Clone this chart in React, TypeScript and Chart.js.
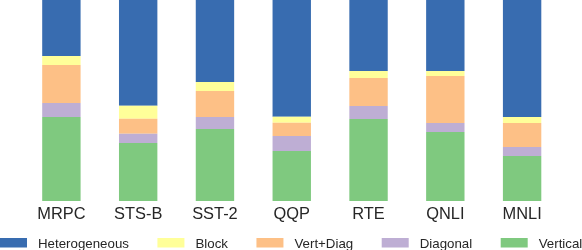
import { useEffect, useRef } from "react";
import { Chart, registerables } from "chart.js";

Chart.register(...registerables);

const categories = ["MRPC", "STS-B", "SST-2", "QQP", "RTE", "QNLI", "MNLI"];
const vertical = [41.8, 28.9, 35.8, 24.9, 40.8, 34.3, 22.4];
const diagonal = [7.0, 4.5, 6.0, 7.5, 6.5, 4.5, 4.5];
const vertDiag = [18.9, 7.5, 12.9, 6.5, 13.9, 23.4, 11.9];
const block = [4.5, 6.5, 4.5, 3.0, 3.5, 2.5, 3.0];
const heterogeneous = [27.8, 52.6, 40.8, 58.1, 35.3, 35.3, 58.2];
const seriesLabels = ["Vertical", "Diagonal", "Vert+Diag", "Block", "Heterogeneous"];
const seriesColors = ["#7fc97f", "#beaed4", "#fdc086", "#ffff99", "#386cb0"];

const FONT = "'Liberation Sans', Arial, sans-serif";

const bottomLegend = {
  id: "bottomLegend",
  afterDraw(chart: any) {
    const ctx = chart.ctx as CanvasRenderingContext2D;
    ctx.save();
    ctx.font = `13.3px ${FONT}`;
    ctx.textBaseline = "alphabetic";
    ctx.textAlign = "left";
    let x = 0;
    const ds = [...chart.data.datasets].reverse();
    for (const d of ds) {
      ctx.fillStyle = d.backgroundColor;
      ctx.fillRect(x, 238, 27, 9.5);
      ctx.fillStyle = "#262626";
      ctx.fillText(d.label, x + 38, 248);
      x += 38 + ctx.measureText(d.label).width + 28.5;
    }
    ctx.restore();
  },
};

export default function App() {
  const ref = useRef<HTMLCanvasElement | null>(null);
  useEffect(() => {
    if (!ref.current) return;
    const seriesData = [vertical, diagonal, vertDiag, block, heterogeneous];
    const chart = new Chart(ref.current, {
      type: "bar",
      data: {
        labels: categories,
        datasets: seriesData.map((d, i) => ({
          label: seriesLabels[i],
          data: d,
          backgroundColor: seriesColors[i],
          borderWidth: 0,
          barPercentage: 0.5,
          categoryPercentage: 1,
        })),
      },
      options: {
        responsive: false,
        animation: false,
        devicePixelRatio: 1,
        layout: { padding: { left: 23, right: 21.5, top: 0, bottom: 0 } },
        plugins: {
          legend: { display: false },
          tooltip: { enabled: false },
        },
        scales: {
          x: {
            stacked: true,
            grid: { display: false, drawTicks: false },
            border: { display: false },
            ticks: {
              padding: 4,
              color: "#262626",
              font: { size: 16.4, family: FONT },
              maxRotation: 0,
            },
            afterFit(scale: any) {
              scale.height = 49;
            },
          },
          y: {
            stacked: true,
            display: false,
            min: 0,
            max: 100,
          },
        },
      },
      plugins: [bottomLegend],
    });
    return () => chart.destroy();
  }, []);
  return (
    <div style={{ position: "absolute", left: 0, top: 0, width: 582, height: 250, background: "#fff" }}>
      <canvas ref={ref} width={582} height={250} />
    </div>
  );
}
